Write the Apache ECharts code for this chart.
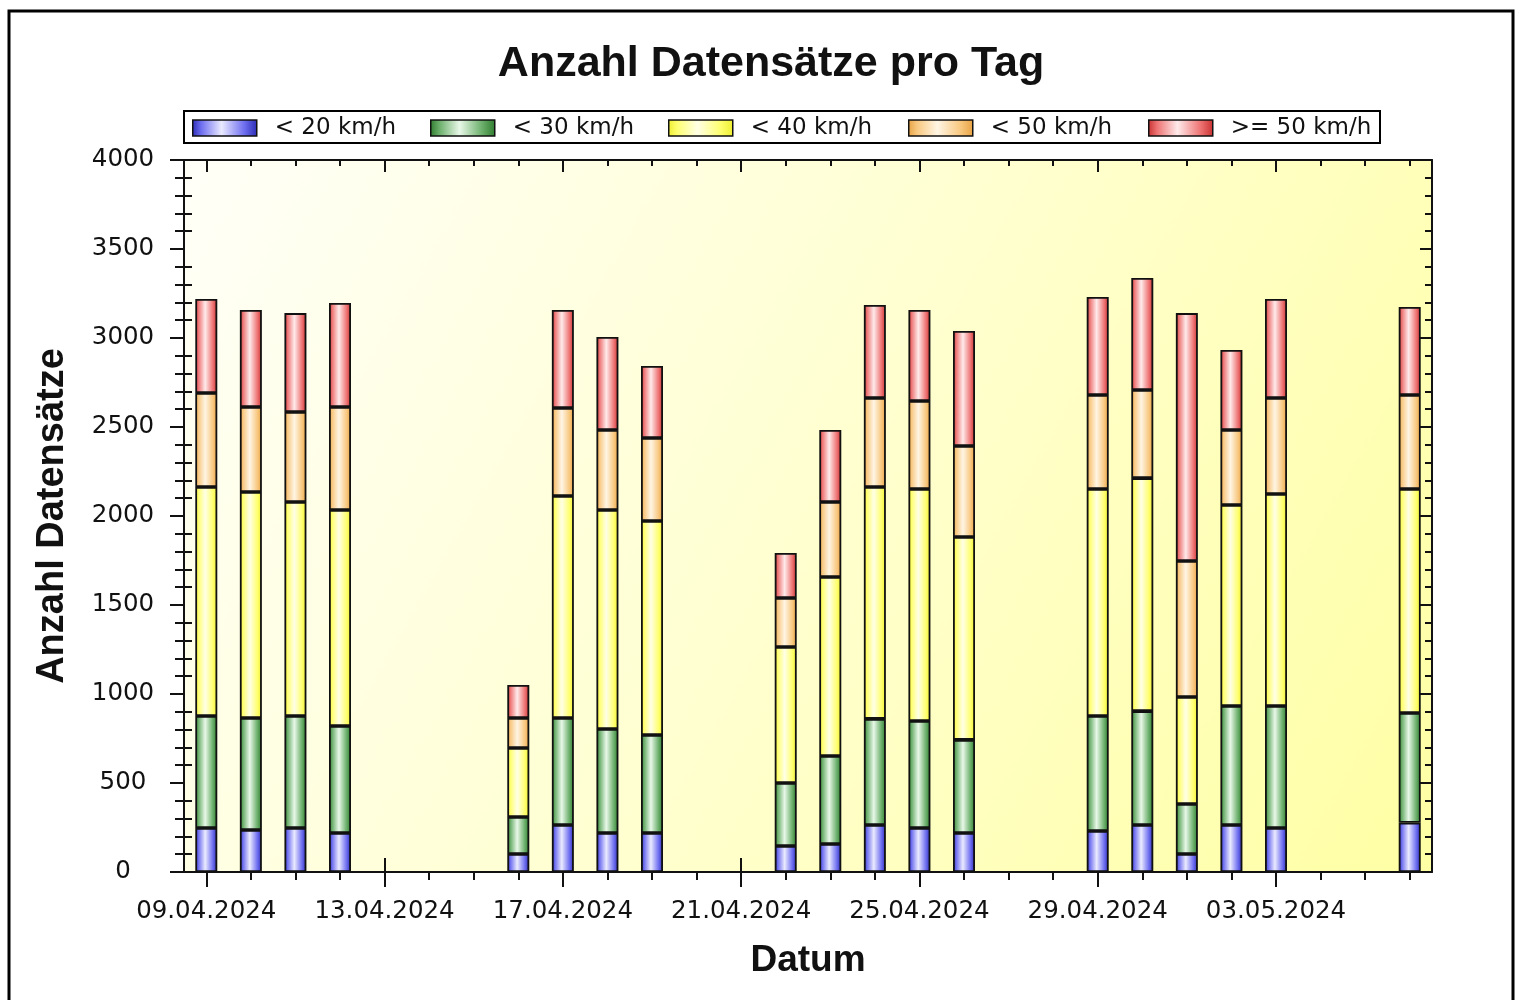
<!DOCTYPE html>
<html><head><meta charset="utf-8">
<script src="https://cdn.jsdelivr.net/npm/echarts@6/dist/echarts.min.js"></script>
<style>html,body{margin:0;padding:0;background:#fff}#c{width:1520px;height:1000px}</style>
</head><body><div id="c"></div>
<script>
const categories = ['09.04.2024','10.04.2024','11.04.2024','12.04.2024','13.04.2024','14.04.2024','15.04.2024',
  '16.04.2024','17.04.2024','18.04.2024','19.04.2024','20.04.2024','21.04.2024','22.04.2024','23.04.2024',
  '24.04.2024','25.04.2024','26.04.2024','27.04.2024','28.04.2024','29.04.2024','30.04.2024','01.05.2024',
  '02.05.2024','03.05.2024','04.05.2024','05.05.2024','06.05.2024'];
const seriesNames = ['< 20 km/h','< 30 km/h','< 40 km/h','< 50 km/h','>= 50 km/h'];
const _ = null;
const under20 = [247,236,247,219,_,_,_,101,264,219,219,_,_,146,157,264,247,219,_,_,230,264,101,264,247,_,_,277];
const under30 = [629,629,629,601,_,_,_,208,601,584,551,_,_,354,495,596,601,523,_,_,646,640,281,669,686,_,_,616];
const under40 = [1287,1270,1203,1214,_,_,_,388,1247,1231,1202,_,_,764,1005,1303,1304,1140,_,_,1276,1309,601,1129,1191,_,_,1259];
const under50 = [528,477,505,578,_,_,_,168,495,449,466,_,_,275,422,500,494,511,_,_,528,495,764,421,539,_,_,528];
const over50 = [528,545,556,585,_,_,_,186,550,523,405,_,_,253,404,522,511,646,_,_,550,629,1393,450,556,_,_,494];
const yMin = 0, yMax = 4000, yStep = 500;
const labelEvery = 4;

const chart = echarts.init(document.getElementById('c'));
const G = echarts.graphic.LinearGradient;
function barGrad(edge, mid, light) {
  return new G(0, 0, 1, 0, [
    {offset: 0, color: edge}, {offset: 0.14, color: mid}, {offset: 0.45, color: light},
    {offset: 0.8, color: mid}, {offset: 1, color: edge}]);
}
const fills = [
  barGrad('#2a2ab4', '#6e6ef0', '#eaeaff'),
  barGrad('#2e7c2e', '#6aae6a', '#e8f8e8'),
  barGrad('#eeee30', '#ffff70', '#ffffe6'),
  barGrad('#e8a242', '#f8c880', '#fff5e4'),
  barGrad('#c83030', '#ee7474', '#ffeaea')
];
const values = [under20, under30, under40, under50, over50];
const major = (i) => i % labelEvery === 0;
const black = '#111';
const sans = 'DejaVu Sans';
const bold = 'Liberation Sans';

const xBase = {type: 'category', data: categories, gridIndex: 0, boundaryGap: true,
  axisLabel: {show: false}, splitLine: {show: false}, axisLine: {show: false, onZero: false}};
const yBase = {type: 'value', min: yMin, max: yMax, interval: yStep, splitLine: {show: false},
  axisLabel: {show: false}, axisLine: {show: false, onZero: false}};

const legendLefts = [192, 430, 668, 908, 1148];

chart.setOption({
  backgroundColor: '#ffffff',
  animation: false,
  title: {text: 'Anzahl Datensätze pro Tag', left: 766, top: 38, textAlign: 'center',
    textStyle: {fontFamily: bold, fontWeight: 'bold', fontSize: 43, color: black}},
  legend: seriesNames.map((n, i) => ({
    data: [n], left: legendLefts[i], top: 116, padding: 0, itemWidth: 64, itemHeight: 16,
    icon: 'rect', selectedMode: false,
    itemStyle: {borderColor: black, borderWidth: 1.5},
    textStyle: {fontFamily: sans, fontSize: 23, lineHeight: 24, color: black, padding: [0, 0, 0, 13]}
  })),
  grid: {left: 184, right: 88, top: 160, bottom: 128, show: true, borderWidth: 0,
    backgroundColor: new G(0, 0, 1, 1, [{offset: 0, color: '#fffff8'}, {offset: 0.5, color: '#ffffd0'}, {offset: 1, color: '#ffffa4'}])},
  xAxis: [
    Object.assign({}, xBase, {position: 'bottom',
      axisLine: {show: true, onZero: false, lineStyle: {color: black, width: 2}},
      axisTick: {show: true, alignWithLabel: true, interval: major, length: 15, lineStyle: {color: black, width: 2}},
      axisLabel: {show: true, interval: major, margin: 27, fontFamily: sans, fontSize: 24.5, color: black},
      name: 'Datum', nameLocation: 'middle', nameGap: 70,
      nameTextStyle: {fontFamily: bold, fontWeight: 'bold', fontSize: 37, color: black}}),
    Object.assign({}, xBase, {position: 'bottom',
      axisTick: {show: true, inside: true, alignWithLabel: true, interval: major, length: 14, lineStyle: {color: black, width: 2}}}),
    Object.assign({}, xBase, {position: 'bottom',
      axisTick: {show: true, alignWithLabel: true, interval: 0, length: 8, lineStyle: {color: black, width: 2}}}),
    Object.assign({}, xBase, {position: 'top',
      axisLine: {show: true, onZero: false, lineStyle: {color: black, width: 2}},
      axisTick: {show: true, inside: true, alignWithLabel: true, interval: major, length: 12, lineStyle: {color: black, width: 2}}}),
    Object.assign({}, xBase, {position: 'top',
      axisTick: {show: true, inside: true, alignWithLabel: true, interval: 0, length: 6, lineStyle: {color: black, width: 2}}})
  ],
  yAxis: [
    Object.assign({}, yBase, {position: 'left',
      axisLine: {show: true, onZero: false, lineStyle: {color: black, width: 2}},
      axisTick: {show: true, length: 14, lineStyle: {color: black, width: 2}},
      minorTick: {show: true, splitNumber: 5, length: 9, lineStyle: {color: black, width: 2}},
      axisLabel: {show: true, align: 'center', margin: 61, fontFamily: sans, fontSize: 24.5, color: black,
        formatter: (v) => String(v)},
      name: 'Anzahl Datensätze', nameLocation: 'middle', nameGap: 112,
      nameTextStyle: {fontFamily: bold, fontWeight: 'bold', fontSize: 38, color: black}}),
    Object.assign({}, yBase, {position: 'left',
      axisTick: {show: false, inside: true},
      minorTick: {show: true, splitNumber: 5, length: 8, lineStyle: {color: black, width: 2}}}),
    Object.assign({}, yBase, {position: 'right',
      axisLine: {show: true, onZero: false, lineStyle: {color: black, width: 2}},
      axisTick: {show: true, inside: true, length: 12, lineStyle: {color: black, width: 2}},
      minorTick: {show: true, splitNumber: 5, length: 7, lineStyle: {color: black, width: 2}}})
  ],
  series: seriesNames.map((n, i) => ({
    name: n, type: 'bar', stack: 'total', xAxisIndex: 0, yAxisIndex: 0, barWidth: 22,
    data: values[i],
    itemStyle: {color: fills[i], borderColor: black, borderWidth: 1.8}
  })),
  graphic: [
    {type: 'rect', shape: {x: 9, y: 11, width: 1504, height: 1100}, style: {fill: 'none', stroke: '#000', lineWidth: 3}, z: 100},
    {type: 'rect', shape: {x: 184, y: 111, width: 1196, height: 32}, style: {fill: 'none', stroke: '#000', lineWidth: 2}, z: 100}
  ]
});
</script></body></html>
